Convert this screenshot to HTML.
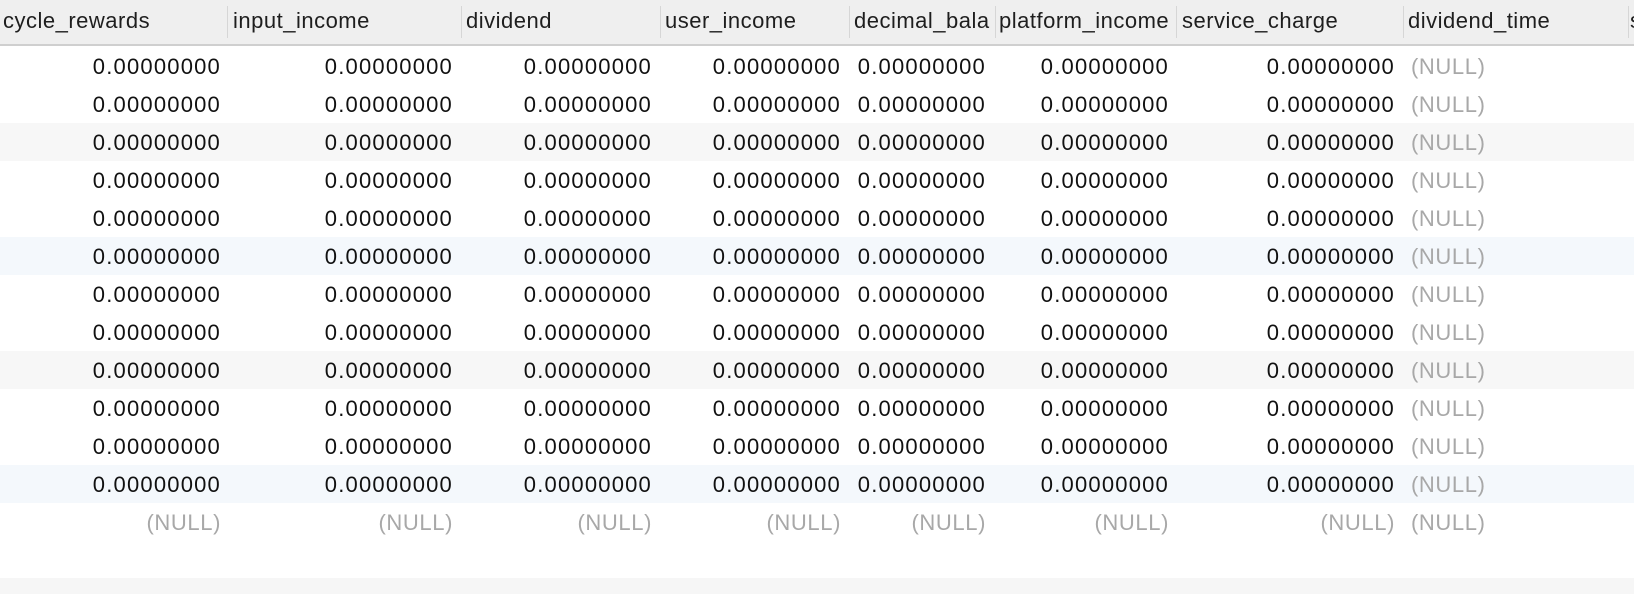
<!DOCTYPE html>
<html><head><meta charset="utf-8"><style>
html,body{margin:0;padding:0;width:1634px;height:594px;overflow:hidden;background:#fff}
body{font-family:"Liberation Sans",sans-serif;font-size:22px;color:#111;position:relative}
.h{position:absolute;left:0;top:0;width:1634px;height:44px;background:#efefef;border-bottom:2px solid #cfcfcf}
.ht{position:absolute;top:8px;white-space:nowrap;color:#1e1e1e;letter-spacing:0.5px}
.sep{position:absolute;top:6px;width:1px;height:32px;background:#d6d6d6}
.r{position:relative;width:1634px;height:38px;line-height:38px}
.r span{position:absolute;top:1px;white-space:nowrap;letter-spacing:1.2px}
.r span.a{right:1413px}.r span.b{right:1181px}.r span.c{right:982px}.r span.d{right:793px}.r span.e{right:648px}.r span.f{right:465px}.r span.g{right:239px}
.r span.z{left:1411px;color:#a8a8a8;letter-spacing:0.6px}
.nl span{color:#a8a8a8;letter-spacing:0.6px}
.g1{background:#f7f7f7}.b1{background:#f4f8fc}
#rows{position:absolute;left:0;top:47px;width:1634px}
.foot{position:absolute;left:0;top:578px;width:1634px;height:16px;background:#f6f6f6}
</style></head><body>
<div class="h"></div>
<div class="ht" style="left:3px">cycle_rewards</div>
<div class="ht" style="left:233px">input_income</div>
<div class="ht" style="left:466px">dividend</div>
<div class="ht" style="left:665px">user_income</div>
<div class="ht" style="left:854px">decimal_bala</div>
<div class="ht" style="left:999px">platform_income</div>
<div class="ht" style="left:1182px">service_charge</div>
<div class="ht" style="left:1408px">dividend_time</div>
<div class="ht" style="left:1630px">s</div>
<div class="sep" style="left:227px"></div><div class="sep" style="left:461px"></div><div class="sep" style="left:660px"></div><div class="sep" style="left:849px"></div><div class="sep" style="left:995px"></div><div class="sep" style="left:1176px"></div><div class="sep" style="left:1403px"></div><div class="sep" style="left:1628px"></div>
<div id="rows">
<div class="r"><span class="a">0.00000000</span><span class="b">0.00000000</span><span class="c">0.00000000</span><span class="d">0.00000000</span><span class="e">0.00000000</span><span class="f">0.00000000</span><span class="g">0.00000000</span><span class="z">(NULL)</span></div>
<div class="r"><span class="a">0.00000000</span><span class="b">0.00000000</span><span class="c">0.00000000</span><span class="d">0.00000000</span><span class="e">0.00000000</span><span class="f">0.00000000</span><span class="g">0.00000000</span><span class="z">(NULL)</span></div>
<div class="r g1"><span class="a">0.00000000</span><span class="b">0.00000000</span><span class="c">0.00000000</span><span class="d">0.00000000</span><span class="e">0.00000000</span><span class="f">0.00000000</span><span class="g">0.00000000</span><span class="z">(NULL)</span></div>
<div class="r"><span class="a">0.00000000</span><span class="b">0.00000000</span><span class="c">0.00000000</span><span class="d">0.00000000</span><span class="e">0.00000000</span><span class="f">0.00000000</span><span class="g">0.00000000</span><span class="z">(NULL)</span></div>
<div class="r"><span class="a">0.00000000</span><span class="b">0.00000000</span><span class="c">0.00000000</span><span class="d">0.00000000</span><span class="e">0.00000000</span><span class="f">0.00000000</span><span class="g">0.00000000</span><span class="z">(NULL)</span></div>
<div class="r b1"><span class="a">0.00000000</span><span class="b">0.00000000</span><span class="c">0.00000000</span><span class="d">0.00000000</span><span class="e">0.00000000</span><span class="f">0.00000000</span><span class="g">0.00000000</span><span class="z">(NULL)</span></div>
<div class="r"><span class="a">0.00000000</span><span class="b">0.00000000</span><span class="c">0.00000000</span><span class="d">0.00000000</span><span class="e">0.00000000</span><span class="f">0.00000000</span><span class="g">0.00000000</span><span class="z">(NULL)</span></div>
<div class="r"><span class="a">0.00000000</span><span class="b">0.00000000</span><span class="c">0.00000000</span><span class="d">0.00000000</span><span class="e">0.00000000</span><span class="f">0.00000000</span><span class="g">0.00000000</span><span class="z">(NULL)</span></div>
<div class="r g1"><span class="a">0.00000000</span><span class="b">0.00000000</span><span class="c">0.00000000</span><span class="d">0.00000000</span><span class="e">0.00000000</span><span class="f">0.00000000</span><span class="g">0.00000000</span><span class="z">(NULL)</span></div>
<div class="r"><span class="a">0.00000000</span><span class="b">0.00000000</span><span class="c">0.00000000</span><span class="d">0.00000000</span><span class="e">0.00000000</span><span class="f">0.00000000</span><span class="g">0.00000000</span><span class="z">(NULL)</span></div>
<div class="r"><span class="a">0.00000000</span><span class="b">0.00000000</span><span class="c">0.00000000</span><span class="d">0.00000000</span><span class="e">0.00000000</span><span class="f">0.00000000</span><span class="g">0.00000000</span><span class="z">(NULL)</span></div>
<div class="r b1"><span class="a">0.00000000</span><span class="b">0.00000000</span><span class="c">0.00000000</span><span class="d">0.00000000</span><span class="e">0.00000000</span><span class="f">0.00000000</span><span class="g">0.00000000</span><span class="z">(NULL)</span></div>
<div class="r nl"><span class="a">(NULL)</span><span class="b">(NULL)</span><span class="c">(NULL)</span><span class="d">(NULL)</span><span class="e">(NULL)</span><span class="f">(NULL)</span><span class="g">(NULL)</span><span class="z">(NULL)</span></div>
</div>
<div class="foot"></div>
</body></html>
